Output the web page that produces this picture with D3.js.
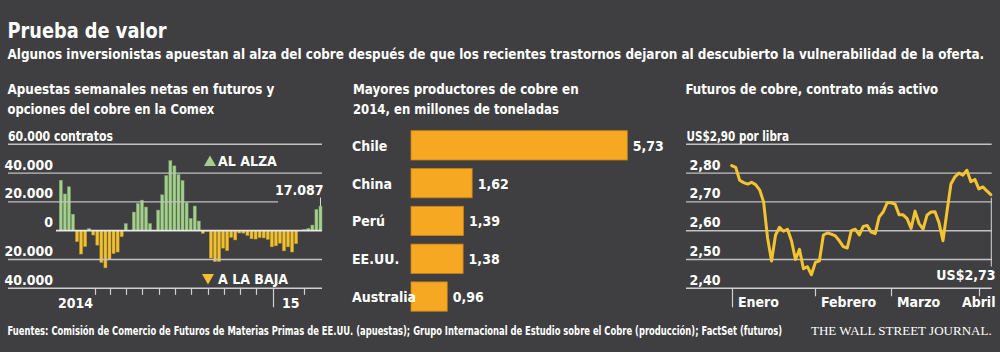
<!DOCTYPE html>
<html><head><meta charset="utf-8">
<script src="https://cdn.jsdelivr.net/npm/d3@7"></script>
<style>
html,body{margin:0;padding:0;background:#3f3f41;}
svg{display:block;}
text{font-family:"Liberation Sans Narrow","DejaVu Sans Condensed","Roboto Condensed","Open Sans",sans-serif;font-weight:bold;fill:#fff;}
</style></head><body>
<svg id="c" width="1000" height="352"></svg>
<script>
// ---------- DATA ----------
const netPositions = [35000,25500,30500,11400,-7600,-16200,-11000,1400,-3000,-10000,
  -22000,-25800,-20200,-15800,-14800,-4100,4900,300,12900,18900,
  21200,16400,4900,400,14300,24900,38200,48600,45000,39000,
  34800,19500,8500,17100,6700,-1800,-300,-19000,-21400,-21400,
  -12100,-13800,-4600,-6400,-1600,-1700,-3300,-5600,-5800,-4800,
  -5000,-6000,-11200,-10500,-8700,-14000,-11200,-14800,-9000,200,
  700,1600,3900,14700,17087];
const netLastLabel = "17.087";
const netTicks = [60000,40000,20000,0,-20000,-40000];
const netTickLabels = ["60.000 contratos","40.000","20.000","0","20.000","40.000"];
const netMonthTicks = ["2014-02-01","2014-03-01","2014-04-01","2014-05-01","2014-06-01","2014-07-01",
  "2014-08-01","2014-09-01","2014-10-01","2014-11-01","2014-12-01","2015-01-01","2015-03-01"];
const netYearLabels = ["2014","15"];
const netYearDates = ["2014-01-01","2015-01-01"];
const legendLabels = ["AL ALZA","A LA BAJA"];

const producers = ["Chile","China","Perú","EE.UU.","Australia"];
const production = [5.73,1.62,1.39,1.38,0.96];
const productionLabels = ["5,73","1,62","1,39","1,38","0,96"];

const prices = [2.826,2.82,2.775,2.767,2.762,2.768,2.760,2.742,2.70,2.575,
  2.495,2.585,2.612,2.598,2.605,2.565,2.50,2.535,2.468,2.475,
  2.447,2.49,2.495,2.585,2.592,2.588,2.582,2.565,2.545,2.54,
  2.600,2.605,2.585,2.615,2.618,2.595,2.59,2.648,2.665,2.697,
  2.697,2.692,2.655,2.655,2.642,2.608,2.668,2.625,2.605,2.654,
  2.665,2.666,2.628,2.565,2.666,2.762,2.787,2.80,2.793,2.81,
  2.77,2.778,2.745,2.752,2.738,2.725];
const priceLastLabel = "US$2,73";
const priceTicks = [2.9,2.8,2.7,2.6,2.5,2.4];
const priceTickLabels = ["US$2,90 por libra","2,80","2,70","2,60","2,50","2,40"];
const priceMonths = ["Enero","Febrero","Marzo","Abril"];
const priceMonthStart = [0,21,40,62];

// ---------- TEXT ----------
const title = "Prueba de valor";
const subtitle = "Algunos inversionistas apuestan al alza del cobre después de que los recientes trastornos dejaron al descubierto la vulnerabilidad de la oferta.";
const panelTitles = [["Apuestas semanales netas en futuros y","opciones del cobre en la Comex"],
  ["Mayores productores de cobre en","2014, en millones de toneladas"],
  ["Futuros de cobre, contrato más activo"]];
const source = "Fuentes: Comisión de Comercio de Futuros de Materias Primas de EE.UU. (apuestas); Grupo Internacional de Estudio sobre el Cobre (producción); FactSet (futuros)";
const brand = "THE WALL STREET JOURNAL.";

// ---------- DRAW ----------
const svg = d3.select("#c");
svg.append("rect").attr("width",1000).attr("height",352).attr("fill","#3f3f41");

// horizontally scale a left-anchored text so that its width equals w
function fit(sel, w){
  sel.each(function(){
    const n = this.getComputedTextLength();
    if (Math.abs(n - w) < 1) return;
    const x = +this.getAttribute("x"), y = +this.getAttribute("y");
    this.setAttribute("x",0); this.setAttribute("y",0);
    this.setAttribute("transform",`translate(${x},${y}) scale(${(w/n).toFixed(4)},1)`);
  });
  return sel;
}
function txt(x,y,s,size,anchor){
  return svg.append("text").attr("x",x).attr("y",y).attr("font-size",size).attr("text-anchor",anchor||"start").text(s);
}

fit(txt(7.5,38,title,21),159);
fit(txt(7.5,58.5,subtitle,14.5),978);
const ptX = [7.5,353,685.5], ptW = [[267,207],[226,206],[253]];
panelTitles.forEach((lines,i)=>lines.forEach((l,j)=>fit(txt(ptX[i],94+j*19.5,l,14.5),ptW[i][j])));
fit(txt(7.5,335,source,12.5),776);
fit(svg.append("text").attr("x",811).attr("y",335).attr("font-size",12)
  .style("font-family","'Liberation Serif','DejaVu Serif',serif").style("font-weight","normal")
  .attr("fill","#e6e6e6").text(brand),181);

const gridCol = "#c2c2c2";

// ---- Left: net positions ----
const yN = d3.scaleLinear().domain([-40000,60000]).range([288.3,144.3]);
const xN = d3.scaleBand().domain(d3.range(netPositions.length)).range([59.3,322]).paddingInner(0.26);
const tN = d3.scaleTime().domain([new Date(2013,10,26),new Date(2015,3,3)]).range([59.3,322]);

const gL = svg.append("g");
gL.selectAll("rect.b").data(netPositions).join("rect")
  .attr("x",(d,i)=>xN(i)).attr("width",xN.bandwidth())
  .attr("y",d=>yN(Math.max(0,d))).attr("height",d=>Math.abs(yN(d)-yN(0)))
  .attr("fill",d=>d>=0?"#a5cf8c":"#f2c132")
  .attr("stroke",d=>d>=0?"#7fa96c":"#c29a25").attr("stroke-width",0.5);

netTicks.forEach((v,i)=>{
  if (i === netTicks.length-1) return;
  const x0 = v===0 ? 56 : 8, x1 = v===20000 ? 278 : 322;
  gL.append("line").attr("x1",x0).attr("x2",x1).attr("y1",yN(v)).attr("y2",yN(v))
    .attr("stroke", v===0 ? "#e8e8e8" : gridCol).attr("stroke-width", v===0?1.8:1.4);
});
netTickLabels.forEach((s,i)=>{
  const v = netTicks[i];
  if (i===0) fit(txt(8,yN(v)-3.8,s,14),105);
  else txt(53,yN(v)-3.5,s,14,"end");
});
// bottom axis
gL.append("line").attr("x1",8).attr("x2",322).attr("y1",yN(-40000)).attr("y2",yN(-40000))
  .attr("stroke","#d0d0d0").attr("stroke-width",1.6);
netMonthTicks.forEach(s=>{
  const d = new Date(s+"T00:00:00"), x = Math.round(tN(d))+0.5, jan = d.getMonth()===0;
  gL.append("line").attr("x1",x).attr("x2",x).attr("y1",yN(-40000)).attr("y2",yN(-40000)+(jan?19:6.5))
    .attr("stroke","#d0d0d0").attr("stroke-width",1.2);
});
txt(tN(new Date(netYearDates[0]+"T00:00:00"))-3,308,netYearLabels[0],14,"middle");
txt(tN(new Date(netYearDates[1]+"T00:00:00"))+9,308,netYearLabels[1],14,"start");
// legend
gL.append("path").attr("d",d3.symbol(d3.symbolTriangle,62)()).attr("transform","translate(210,162.5)").attr("fill","#a5cf8c");
gL.append("path").attr("d",d3.symbol(d3.symbolTriangle,62)()).attr("transform","translate(208,277.5) rotate(180)").attr("fill","#f2c132");
txt(218,165.7,legendLabels[0],14);
txt(218,283.5,legendLabels[1],14);
// last value callout
const li = netPositions.length-1, lx = xN(li)+xN.bandwidth()/2;
gL.append("line").attr("x1",lx).attr("x2",lx).attr("y1",197.5).attr("y2",yN(netPositions[li]))
  .attr("stroke","#d8d8d8").attr("stroke-width",1);
txt(323.5,195,netLastLabel,14,"end");

// ---- Middle: producers ----
const xP = d3.scaleLinear().domain([0,5.73]).range([411,627.3]);
const yP = d3.scaleBand().domain(producers).range([126.45,315.45]).paddingInner(0.225).paddingOuter(0.1125);
const gM = svg.append("g");
gM.selectAll("rect").data(production).join("rect")
  .attr("x",xP(0)).attr("y",(d,i)=>yP(producers[i]))
  .attr("width",d=>xP(d)-xP(0)).attr("height",yP.bandwidth())
  .attr("fill","#f7a823").attr("stroke","#c98313").attr("stroke-width",0.8);
producers.forEach((p,i)=>{
  const cy = yP(p)+yP.bandwidth()/2;
  txt(352,cy+5.5,p,14);
  txt(xP(production[i])+5.5,cy+5.5,productionLabels[i],14);
});

// ---- Right: prices ----
const yR = d3.scaleLinear().domain([2.4,2.9]).range([288.3,144.3]);
const xR = d3.scaleLinear().domain([0,prices.length-1]).range([731.7,990.8]);
const gR = svg.append("g");
priceTicks.forEach((v,i)=>{
  gR.append("line").attr("x1",686).attr("x2",991.7).attr("y1",yR(v)).attr("y2",yR(v))
    .attr("stroke", i===priceTicks.length-1 ? "#d0d0d0" : gridCol).attr("stroke-width", i===priceTicks.length-1?1.6:1.4);
  if (i===0) fit(txt(686.5,yR(v)-3.8,priceTickLabels[i],14),102.6);
  else txt(720.5,yR(v)-3.5,priceTickLabels[i],14,"end");
});
priceMonthStart.forEach((idx,i)=>{
  const x = Math.round(xR(idx))+0.5;
  gR.append("line").attr("x1",x).attr("x2",x).attr("y1",yR(2.4)).attr("y2",yR(2.4)+(i===0?19:8))
    .attr("stroke","#d0d0d0").attr("stroke-width",1.2);
  if (i===priceMonths.length-1) txt(995.5,307,priceMonths[i],14,"end");
  else txt(x+5.5,307,priceMonths[i],14);
});
gR.append("path").datum(prices)
  .attr("d",d3.line().x((d,i)=>xR(i)).y(d=>yR(d)))
  .attr("fill","none").attr("stroke","#f4c430").attr("stroke-width",3).attr("stroke-linejoin","round").attr("stroke-linecap","round");
const pl = prices.length-1;
gR.append("line").attr("x1",xR(pl)+0.5).attr("x2",xR(pl)+0.5).attr("y1",yR(prices[pl])+3).attr("y2",266.5)
  .attr("stroke","#d8d8d8").attr("stroke-width",1);
txt(995.5,280,priceLastLabel,14,"end");
</script>
</body></html>
